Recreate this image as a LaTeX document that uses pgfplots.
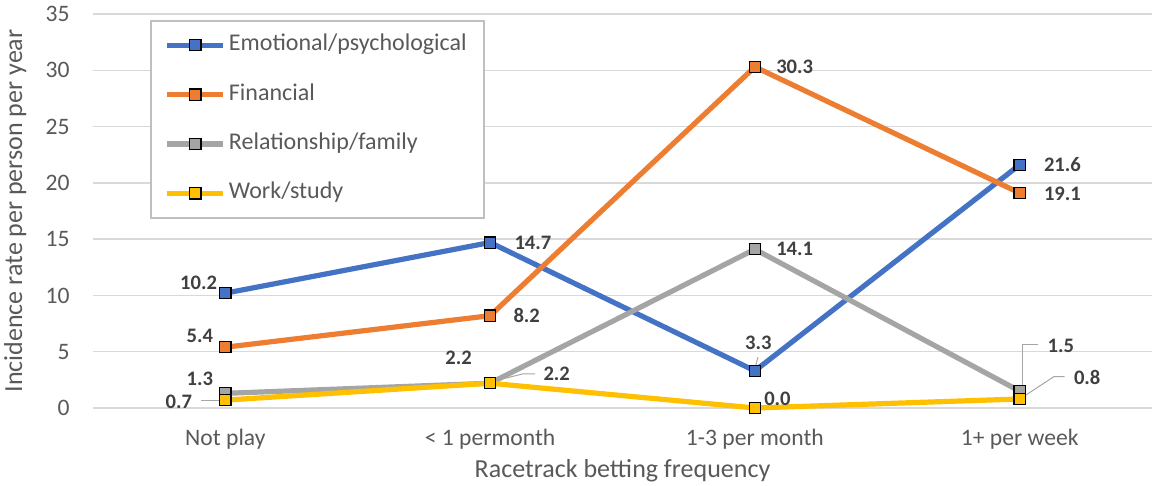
\documentclass[border=0pt]{standalone}
\usepackage{fontspec}
\setmainfont{Carlito}
\usepackage{pgfplots}
\usepackage{pgfplotstable}
\pgfplotsset{compat=1.18}

\definecolor{cBlue}{HTML}{4472C4}
\definecolor{cOrange}{HTML}{ED7D31}
\definecolor{cGray}{HTML}{A5A5A5}
\definecolor{cGold}{HTML}{FFC000}
\definecolor{txt}{HTML}{595959}
\definecolor{lbl}{HTML}{404040}
\definecolor{gridc}{HTML}{D9D9D9}

\pgfplotstableread{
x y
0 10.2
1 14.7
2 3.3
3 21.6
}\emotional
\pgfplotstableread{
x y
0 5.4
1 8.2
2 30.3
3 19.1
}\financial
\pgfplotstableread{
x y
0 1.3
1 2.2
2 14.1
3 1.5
}\relation
\pgfplotstableread{
x y
0 0.7
1 2.2
2 0.0
3 0.8
}\work

% data label of point #2 of table #1: anchor #3, shifts #4 and #5 (pt)
\newcommand\lab[5]{%
  \addplot[forget plot, draw=none, mark=none,
    x filter/.expression={\coordindex==#2 ? x : nan},
    nodes near coords={\pgfmathprintnumber[fixed, fixed zerofill, precision=1]{\pgfplotspointmeta}},
    every node near coord/.append style={anchor=#3, xshift=#4pt, yshift=#5pt,
        inner sep=0pt, font=\fontsize{10.3}{12}\selectfont\bfseries, text=lbl}]
    table[x=x, y=y] {#1};}

\begin{document}
\begin{tikzpicture}
\useasboundingbox (-46.5pt,-39pt) rectangle (530pt,204pt);
\begin{axis}[
    scale only axis,
    width=529.5pt, height=197pt,
    xmin=-0.5, xmax=3.5,
    ymin=0, ymax=35,
    xtick={0,1,2,3},
    xticklabels={Not play, < 1 permonth, 1-3 per month, 1+ per week},
    ytick={0,5,...,35},
    xmajorgrids=false,
    ymajorgrids=true,
    major grid style={draw=gridc, line width=0.75pt},
    axis line style={draw=none},
    tick style={draw=none},
    major tick length=0pt,
    clip=false,
    /pgf/number format/assume math mode=true,
    tick label style={font=\fontsize{11.8}{14}\selectfont, text=txt},
    yticklabel style={anchor=east, inner sep=0pt, xshift=-11.5pt},
    xticklabel style={anchor=base, inner sep=0pt, yshift=-19pt},
    xlabel={Racetrack betting frequency},
    ylabel={Incidence rate per person per year},
    every axis x label/.style={at={(axis description cs:0.5,0)}, anchor=base, yshift=-35pt,
        font=\fontsize{13}{15}\selectfont, text=txt},
    every axis y label/.style={at={(axis description cs:-0.067,0.5)}, rotate=90, anchor=base,
        font=\fontsize{13}{15}\selectfont, text=txt},
    legend style={at={(axis description cs:0.0538,0.985)}, anchor=north west,
        draw=black!25, line width=0.8pt, fill=white,
        font=\fontsize{12}{14}\selectfont, text=txt,
        inner xsep=7pt, inner ysep=6.5pt, row sep=13.2pt,
        nodes={inner xsep=1.5pt, inner ysep=0pt, text height=8.5pt, text depth=3pt}},
    legend cell align=left,
    legend image code/.code={\draw[mark repeat=2, mark phase=2, #1]
        plot coordinates {(0pt,0pt) (14pt,0pt) (28pt,0pt)};},
]
\addplot[color=cBlue, line width=2.6pt, mark=square*, mark size=2.8pt,
    mark options={fill=cBlue, draw=black, line width=0.6pt}] table[x=x, y=y] {\emotional};
\addplot[color=cOrange, line width=2.6pt, mark=square*, mark size=2.8pt,
    mark options={fill=cOrange, draw=black, line width=0.6pt}] table[x=x, y=y] {\financial};
\addplot[color=cGray, line width=2.6pt, mark=square*, mark size=2.8pt,
    mark options={fill=cGray, draw=black, line width=0.6pt}] table[x=x, y=y] {\relation};
\addplot[color=cGold, line width=2.6pt, mark=square*, mark size=2.8pt,
    mark options={fill=cGold, draw=black, line width=0.6pt}] table[x=x, y=y] {\work};
\legend{Emotional/psychological, Financial, Relationship/family, Work/study}

% data labels
\lab{\emotional}{0}{east}{-4}{5}
\lab{\emotional}{1}{west}{12}{0}
\lab{\emotional}{2}{center}{1.7}{14}
\lab{\emotional}{3}{west}{12}{0}
\lab{\financial}{0}{east}{-6}{5.5}
\lab{\financial}{1}{west}{11.5}{0}
\lab{\financial}{2}{west}{10.5}{0}
\lab{\financial}{3}{west}{12}{-0.5}
\lab{\relation}{0}{east}{-6}{7.5}
\lab{\relation}{1}{east}{-9}{12.8}
\lab{\relation}{2}{west}{10.5}{0}
\lab{\relation}{3}{west}{13.8}{22.5}
\lab{\work}{0}{east}{-16.5}{-1}
\lab{\work}{1}{west}{26.5}{4.5}
\lab{\work}{2}{west}{4.5}{4.5}
\lab{\work}{3}{west}{27}{11}

% leader lines of the moved data labels
\begin{scope}[draw=black!35, line width=0.5pt]
\draw ([xshift=-12pt]axis cs:0,0.7) -- ([xshift=-2pt]axis cs:0,0.7);
\draw ([xshift=1.5pt,yshift=1pt]axis cs:1,2.2) -- ([xshift=16.5pt,yshift=4.7pt]axis cs:1,2.2)
      -- ([xshift=22.5pt,yshift=4.7pt]axis cs:1,2.2);
\draw ([yshift=1pt]axis cs:2,3.3) -- ([xshift=1.5pt,yshift=6.8pt]axis cs:2,3.3);
\draw ([xshift=1.3pt,yshift=3pt]axis cs:3,1.5) -- ([xshift=1.3pt,yshift=23.3pt]axis cs:3,1.5)
      -- ([xshift=9pt,yshift=23.3pt]axis cs:3,1.5);
\draw ([xshift=1.3pt,yshift=0.8pt]axis cs:3,0.8) -- ([xshift=17.2pt,yshift=11.2pt]axis cs:3,0.8)
      -- ([xshift=22.5pt,yshift=11.2pt]axis cs:3,0.8);
\end{scope}
\end{axis}
\end{tikzpicture}
\end{document}
